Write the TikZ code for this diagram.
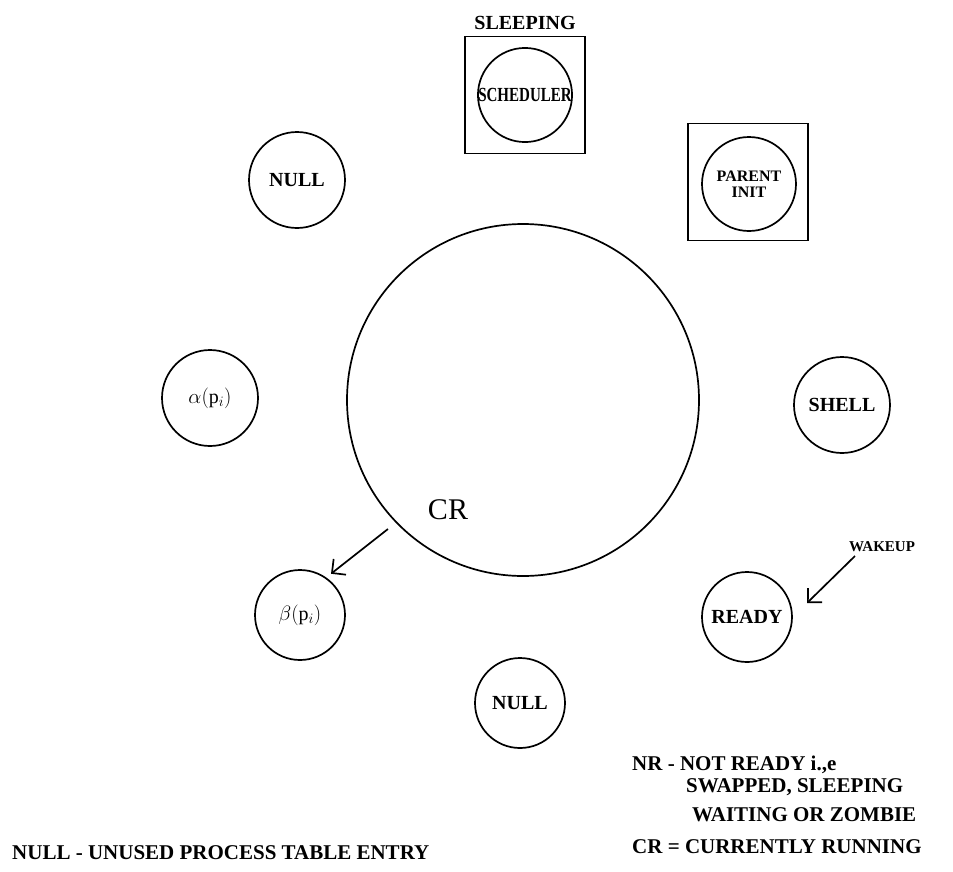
\documentclass[tikz,border=0pt]{standalone}
\usepackage{fontspec}
\setmainfont{Liberation Serif}
\usetikzlibrary{arrows.meta,positioning}

\begin{document}
\begin{tikzpicture}[x=1pt,y=-1pt,
  every node/.style={font=\bfseries\fontsize{20}{24}\selectfont},
  proc/.style={circle,draw,line width=1.7pt,inner sep=0pt,minimum size=94pt},
  frame/.style={draw,line width=1.7pt,minimum width=120pt,minimum height=117pt},
  arr/.style={-{Straight Barb[length=10pt,width=20pt]},line width=1.7pt},
  legend/.style={anchor=west,inner sep=0pt,font=\bfseries\fontsize{21}{26}\selectfont},
]
\useasboundingbox (0,0) rectangle (953,871);
% ---- the currently running process ----
\node[proc,minimum size=352pt] (cr) at (523,400) {};
\node[font=\fontsize{30}{32}\selectfont] (crlab) at (448,510) {CR};
% ---- process table entries round it ----
\node[proc,minimum size=90pt] (sched) at (525,95) {\scalebox{0.75}[1]{SCHEDULER}};
\node[frame] (schedbox) at (sched) {};
\node[above=2pt of schedbox] (sleeping) {SLEEPING};
\node[proc,align=center,font=\bfseries\fontsize{16}{16}\selectfont] (parent) at (749,184) {PARENT\\INIT};
\node[frame] (parentbox) at (748,182) {};
\node[proc,minimum size=96pt] (null1) at (297,180) {NULL};
\node[proc,minimum size=96pt] (alpha) at (210,398) {$\alpha(\mathrm{p}_i)$};
\node[proc,minimum size=96pt] (shell) at (842,405) {SHELL};
\node[proc,minimum size=90pt] (beta) at (300,615) {$\beta(\mathrm{p}_i)$};
\node[proc,minimum size=90pt] (ready) at (747,617) {READY};
\node[proc,minimum size=90pt] (null2) at (520,703) {NULL};
% ---- arrows ----
\draw[arr,shorten <=10pt,shorten >=6pt] (cr.224) -- (beta.55);
\node[font=\bfseries\fontsize{15}{18}\selectfont] (wake) at (882,547) {WAKEUP};
\coordinate (wktail) at (855,556);
\coordinate (wkhead) at (807,603);
\draw[arr] (wktail) -- (wkhead);
% ---- legend ----
\node[legend] (nulllegend) at (12,853) {NULL - UNUSED PROCESS TABLE ENTRY};
\node[legend] (nr1) at (632,765) {NR - NOT READY i.,e};
\node[legend] (nr2) at (686,787) {SWAPPED, SLEEPING};
\node[legend] (nr3) at (692,815) {WAITING OR ZOMBIE};
\node[legend] (crlegend) at (632,847) {CR = CURRENTLY RUNNING};
\end{tikzpicture}
\end{document}
